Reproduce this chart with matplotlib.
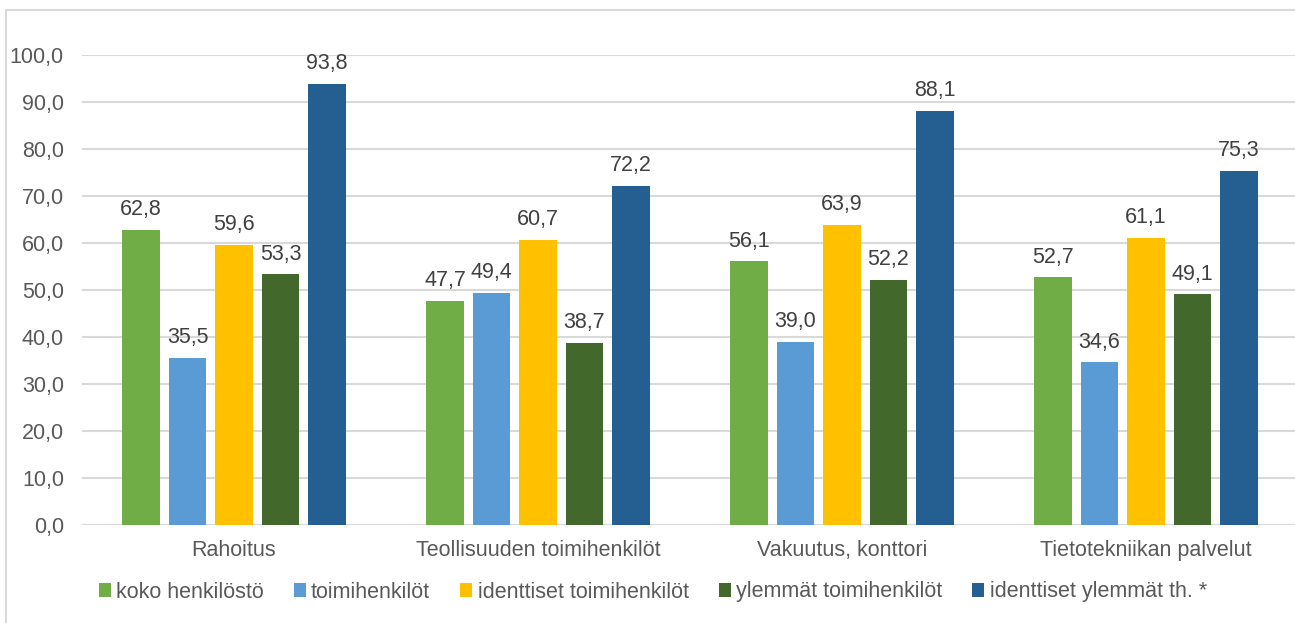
import numpy as np
import matplotlib.pyplot as plt
from matplotlib.patches import Rectangle

plt.rcParams['font.family'] = ['Liberation Sans', 'DejaVu Sans']

# data
categories = ['Rahoitus', 'Teollisuuden toimihenkilöt', 'Vakuutus, konttori', 'Tietotekniikan palvelut']
series = ['koko henkilöstö', 'toimihenkilöt', 'identtiset toimihenkilöt',
          'ylemmät toimihenkilöt', 'identtiset ylemmät th. *']
koko = [62.8, 47.7, 56.1, 52.7]
toimi = [35.5, 49.4, 39.0, 34.6]
ident_toimi = [59.6, 60.7, 63.9, 61.1]
ylemmat = [53.3, 38.7, 52.2, 49.1]
ident_ylemmat = [93.8, 72.2, 88.1, 75.3]
values = [koko, toimi, ident_toimi, ylemmat, ident_ylemmat]
colors = ['#70AD47', '#5B9BD5', '#FFC000', '#43682B', '#255E91']
yticks = np.arange(0, 101, 10)

W, H = 1295, 623
fs = 15.5
fig = plt.figure(figsize=(W / 100, H / 100), dpi=100)
ax = fig.add_axes([82 / W, (H - 525) / H, 1216 / W, 470 / H])

x = np.arange(len(categories))
pitch = 0.153
width = 0.122
for i, (name, vals, c) in enumerate(zip(series, values, colors)):
    bars = ax.bar(x + (i - 2) * pitch, vals, width, color=c, label=name, zorder=3)
    ax.bar_label(bars, labels=[f'{v:.1f}'.replace('.', ',') for v in vals],
                 padding=7, fontsize=fs, color='#404040')

ax.set_xlim(-0.5, 3.5)
ax.set_ylim(0, 100)
ax.set_yticks(yticks)
ax.set_yticklabels([f'{v:.1f}'.replace('.', ',') for v in yticks])
ax.set_xticks(x)
ax.set_xticklabels(categories)
ax.tick_params(axis='both', length=0, labelsize=fs, labelcolor='#595959')
ax.tick_params(axis='y', pad=13)
ax.tick_params(axis='x', pad=11)
ax.grid(axis='y', color='#d9d9d9', linewidth=1.5, zorder=0)
for s in ax.spines.values():
    s.set_visible(False)
ax.axhline(0, color='#d9d9d9', linewidth=1.5, zorder=1)

handles, labels = ax.get_legend_handles_labels()
leg = fig.legend(handles, labels, loc='center', bbox_to_anchor=(0.504, (H - 592) / H),
                 ncol=5, frameon=False, fontsize=fs, handlelength=0.55, handleheight=0.6,
                 handletextpad=0.25, columnspacing=1.4)
for t in leg.get_texts():
    t.set_color('#595959')

# outer chart border
fig.patches.append(Rectangle((6 / W, -0.1), 1.2, (H - 10) / H + 0.1,
                             transform=fig.transFigure, fill=False,
                             edgecolor='#d9d9d9', linewidth=1.5))

fig.savefig('out.png', dpi=100)
